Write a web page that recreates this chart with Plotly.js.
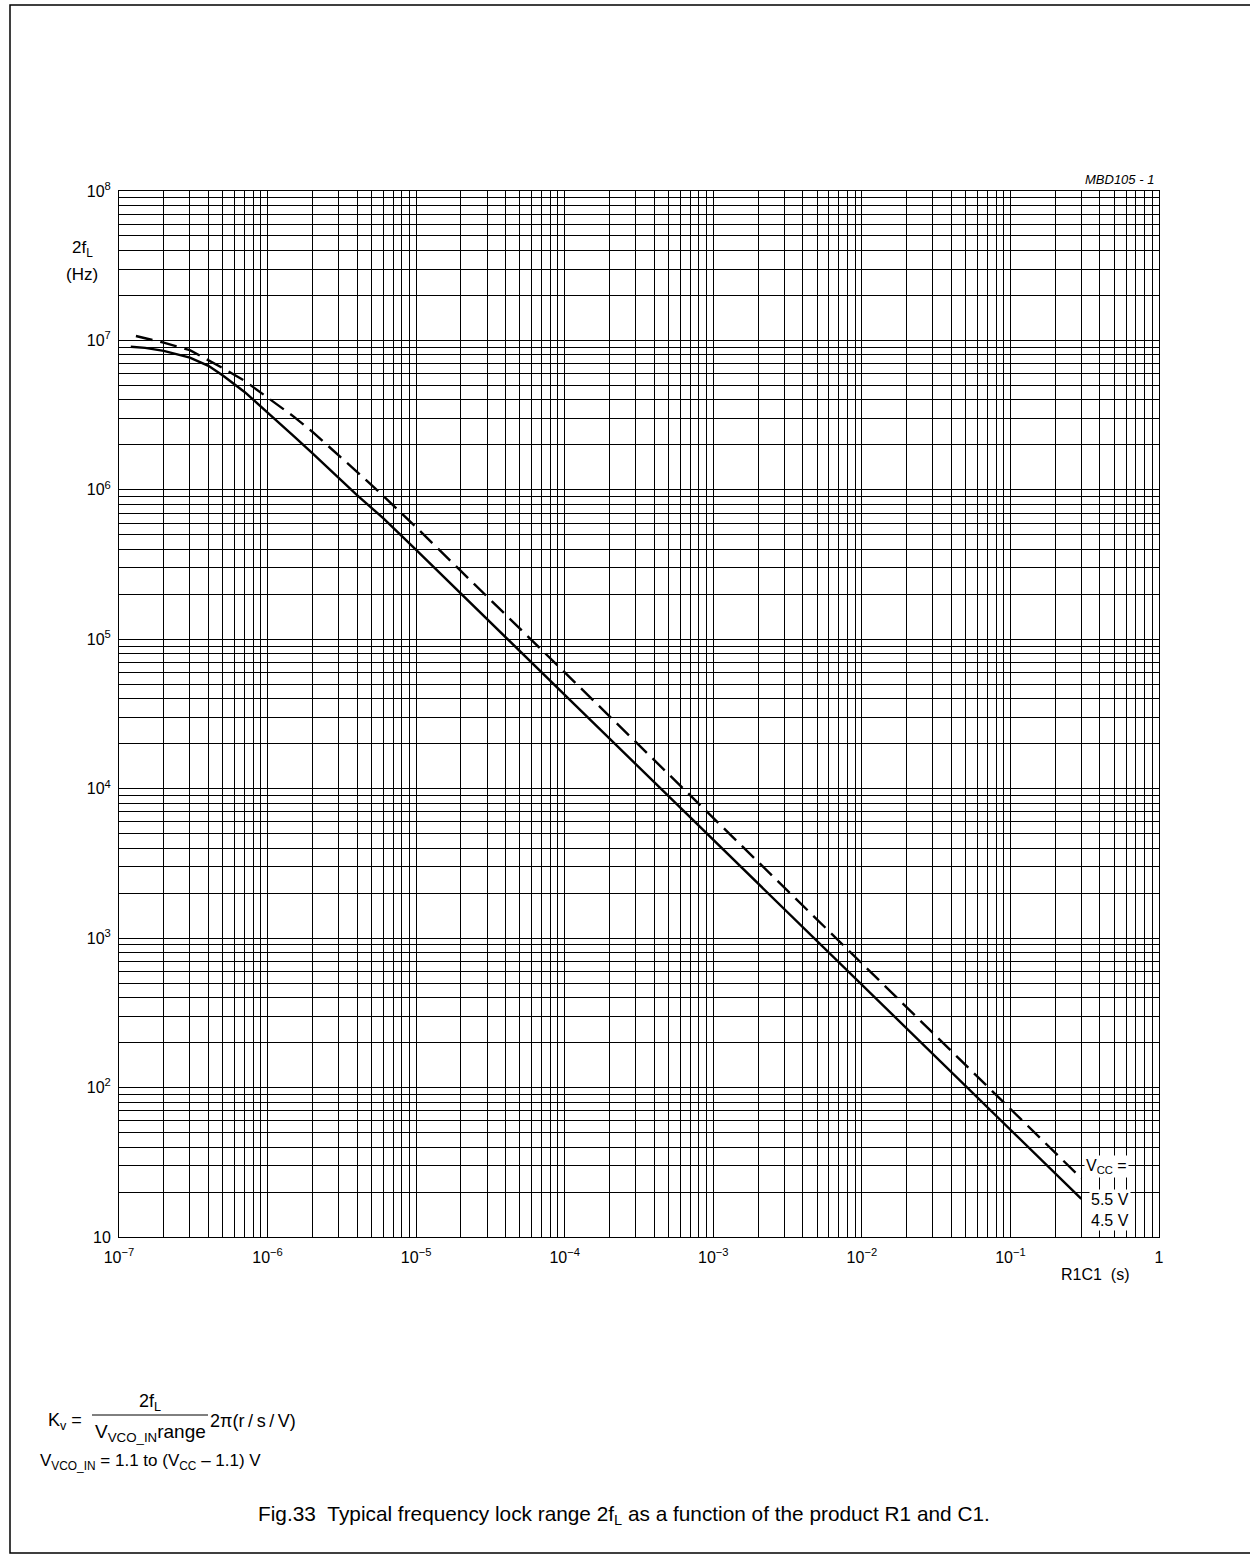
<!DOCTYPE html>
<html>
<head>
<meta charset="utf-8">
<script src="https://cdn.plot.ly/plotly-3.0.1.min.js"></script>
<style>
  html, body { margin: 0; padding: 0; background: #fff; }
  #chart { width: 1250px; height: 1560px; }
</style>
</head>
<body>
<div id="chart"></div>
<script>
// ---- data ----
const rcSolid  = [1.2e-7, 1.5e-7, 2e-7, 3e-7, 4e-7, 5e-7, 7e-7, 1e-6, 1.5e-6, 2e-6, 3e-6, 4e-6, 6e-6,
                  1e-5, 1e-4, 1e-3, 1e-2, 0.1, 0.3];
const fSolid   = [9.08e6, 8.91e6, 8.51e6, 7.67e6, 6.76e6, 5.82e6, 4.52e6, 3.31e6, 2.29e6, 1.76e6, 1.20e6, 9.23e5, 6.46e5,
                  3.96e5, 4.25e4, 4.55e3, 488, 52.2, 18.0];
const rcDashed = [1.3e-7, 2e-7, 3e-7, 5e-7, 7e-7, 1e-6, 1.5e-6, 2e-6, 3e-6, 4e-6, 6e-6,
                  1e-5, 1e-4, 1e-3, 1e-2, 0.1, 0.3];
const fDashed  = [1.07e7, 9.66e6, 8.61e6, 6.53e6, 5.37e6, 4.17e6, 3.09e6, 2.45e6, 1.72e6, 1.32e6, 9.12e5,
                  5.62e5, 6.0e4, 6.4e3, 682, 72.6, 24.7];
const seriesNames = ['V<sub>CC</sub> = 4.5 V', 'V<sub>CC</sub> = 5.5 V'];

const xDecades = [-7, -6, -5, -4, -3, -2, -1, 0];
const xDecadeLabels = ['10<sup>\u22127</sup>', '10<sup>\u22126</sup>', '10<sup>\u22125</sup>', '10<sup>\u22124</sup>',
                       '10<sup>\u22123</sup>', '10<sup>\u22122</sup>', '10<sup>\u22121</sup>', '1'];
const yDecades = [1, 2, 3, 4, 5, 6, 7, 8];
const yDecadeLabels = ['10', '10<sup>2</sup>', '10<sup>3</sup>', '10<sup>4</sup>',
                       '10<sup>5</sup>', '10<sup>6</sup>', '10<sup>7</sup>', '10<sup>8</sup>'];

const xTitle = 'R1C1\u00a0\u00a0(s)';
const yTitle1 = '2f<sub>L</sub>';
const yTitle2 = '(Hz)';
const codeText = '<i>MBD105 - 1</i>';
const captionText = 'Fig.33\u00a0\u00a0Typical frequency lock range 2f<sub>L</sub> as a function of the product R1 and C1.';

// ---- log grid: labelled decades (major) + 2..9 multiples (minor) ----
function buildTicks(decades) {
  const major = decades.map(d => Math.pow(10, d));
  const minor = [];
  for (let i = 0; i < decades.length - 1; i++) {
    for (let m = 2; m <= 9; m++) minor.push(m * Math.pow(10, decades[i]));
  }
  return {major, minor};
}
const xt = buildTicks(xDecades);
const yt = buildTicks(yDecades);

// pixel -> paper helpers (plot area 119..1159 x 191..1237)
const L = 119, R = 1159, T = 191, B = 1237;
const PX = x => (x - L) / (R - L);
const PY = y => (B - y) / (B - T);

const FONT = 'Liberation Sans, Arial, Helvetica, sans-serif';

const traces = [
  { x: rcSolid, y: fSolid, name: seriesNames[0], mode: 'lines',
    line: {color: '#000', width: 2.4}, hoverinfo: 'x+y' },
  { x: rcDashed, y: fDashed, name: seriesNames[1], mode: 'lines',
    line: {color: '#000', width: 2.4, dash: '17px,8px'}, hoverinfo: 'x+y' }
];

const ann = (text, x, y, xanchor, yanchor, size, extra) => Object.assign({
  text, x: PX(x), y: PY(y), xref: 'paper', yref: 'paper', xanchor, yanchor,
  showarrow: false, font: {family: FONT, size, color: '#000'}
}, extra || {});

function axisCfg(range, ticks, labels, standoff) {
  return {
    type: 'log', range, tickmode: 'array', tickvals: ticks.major, ticktext: labels,
    showgrid: true, gridcolor: '#000', gridwidth: 1, zeroline: false,
    minor: {tickmode: 'array', tickvals: ticks.minor, showgrid: true, gridcolor: '#000', gridwidth: 1, ticks: ''},
    showline: true, mirror: true, linecolor: '#000', linewidth: 1,
    ticks: '', ticklabelstandoff: standoff, automargin: false,
    tickfont: {family: FONT, size: 16, color: '#000'}
  };
}

const layout = {
  width: 1250, height: 1560,
  margin: {l: L, r: 1250 - R, t: T, b: 1560 - B, pad: 0},
  paper_bgcolor: '#fff', plot_bgcolor: '#fff',
  showlegend: false,
  font: {family: FONT, size: 16, color: '#000'},
  xaxis: axisCfg([-7, 0], xt, xDecadeLabels, 6),
  yaxis: axisCfg([1, 8], yt, yDecadeLabels, 4),
  annotations: [
    ann(codeText, 1156, 179, 'right', 'middle', 13),
    ann(yTitle1, 82, 249, 'center', 'middle', 17),
    ann(yTitle2, 82, 275, 'center', 'middle', 17),
    ann(xTitle, 1095, 1274, 'center', 'middle', 16),
    ann('V<sub>CC</sub> =', 1084, 1166, 'left', 'middle', 16, {bgcolor: '#fff', borderpad: 1}),
    ann('5.5 V<br>4.5 V', 1089, 1210, 'left', 'middle', 16, {bgcolor: '#fff', borderpad: 1}),
    ann('K<sub>v</sub> =', 46, 1421, 'left', 'middle', 18),
    ann('2f<sub>L</sub>', 150, 1402, 'center', 'middle', 18),
    ann('V<sub>VCO_IN</sub>range', 150, 1433, 'center', 'middle', 19),
    ann('2\u03c0(r\u2009/\u2009s\u2009/\u2009V)', 208, 1421, 'left', 'middle', 18),
    ann('V<sub>VCO_IN</sub> = 1.1 to (V<sub>CC</sub> \u2013 1.1) V', 38, 1462, 'left', 'middle', 17),
    ann(captionText, 624, 1515, 'center', 'middle', 20.8)
  ],
  shapes: [
    {type: 'line', xref: 'paper', yref: 'paper', x0: PX(92), x1: PX(208), y0: PY(1415), y1: PY(1415),
     line: {color: '#000', width: 1}},
    {type: 'rect', xref: 'paper', yref: 'paper', x0: PX(10), x1: PX(1265), y0: PY(1553), y1: PY(5),
     line: {color: '#000', width: 1.5}, fillcolor: 'rgba(0,0,0,0)'}
  ]
};

Plotly.newPlot('chart', traces, layout, {staticPlot: true, displayModeBar: false});
</script>
</body>
</html>
